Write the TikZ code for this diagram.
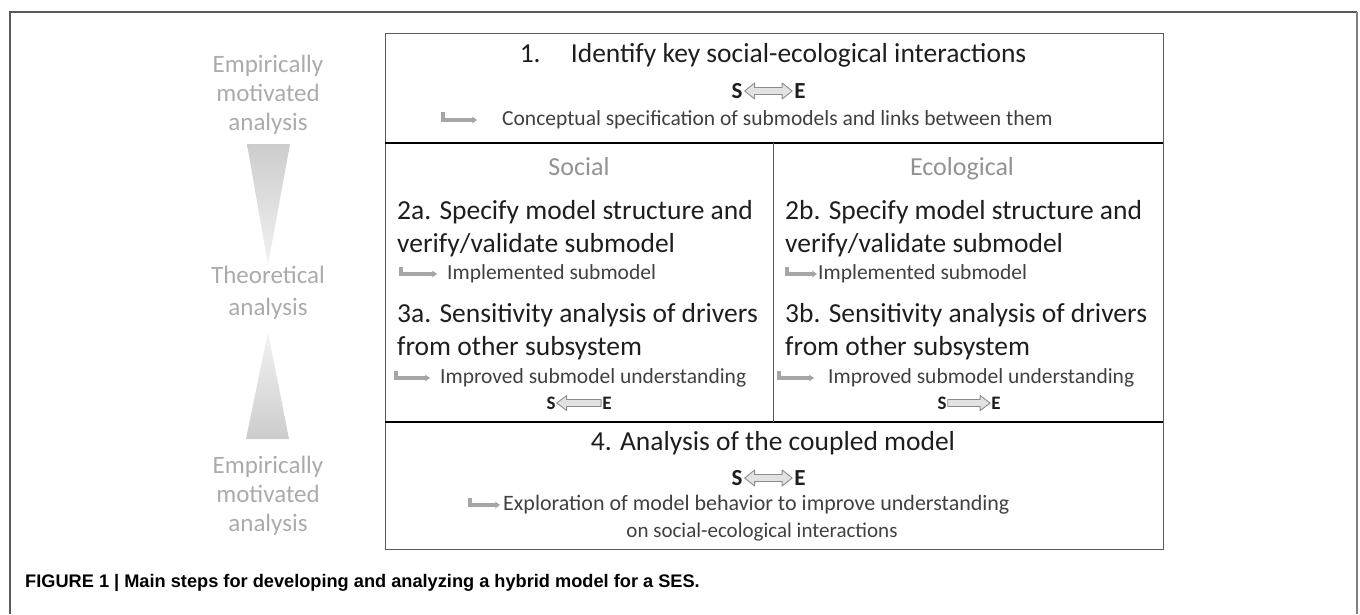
\documentclass[tikz,border=0pt]{standalone}
\usepackage{fontspec}
\setmainfont{Carlito}
\newfontfamily\capfont{Liberation Sans}
\usetikzlibrary{calc,arrows.meta}
\definecolor{txt}{HTML}{1E1E1E}
\definecolor{lbl}{HTML}{ABABAB}
\definecolor{sub}{HTML}{929292}
\definecolor{hookc}{HTML}{A6A6A6}
\definecolor{frm}{HTML}{5A5A5A}
\definecolor{arrfill}{HTML}{E2E2E2}
\definecolor{arrdraw}{HTML}{8C8C8C}
\newcommand\fs[2]{\fontsize{#1}{#2}\selectfont}
% block double arrow between two named nodes
\newcommand\dblarrow[2]{%
  \path[barrow] let \p1=($(#1.east)+(2,0)$), \p2=($(#2.west)-(2,0)$) in
    (\x1,\y1) -- (\x1+10pt,\y1+8pt) -- (\x1+10pt,\y1+3.5pt) -- (\x2-10pt,\y1+3.5pt)
    -- (\x2-10pt,\y1+8pt) -- (\x2,\y1) -- (\x2-10pt,\y1-8pt) -- (\x2-10pt,\y1-3.5pt)
    -- (\x1+10pt,\y1-3.5pt) -- (\x1+10pt,\y1-8pt) -- cycle;}
\newcommand\leftarrowblk[2]{%
  \path[barrow] let \p1=($(#1.east)+(1,0)$), \p2=($(#2.west)-(1,0)$) in
    (\x1,\y1) -- (\x1+10pt,\y1+7.5pt) -- (\x1+10pt,\y1+3.5pt) -- (\x2,\y1+3.5pt)
    -- (\x2,\y1-3.5pt) -- (\x1+10pt,\y1-3.5pt) -- (\x1+10pt,\y1-7.5pt) -- cycle;}
\newcommand\rightarrowblk[2]{%
  \path[barrow] let \p1=($(#1.east)+(1,0)$), \p2=($(#2.west)-(1,0)$) in
    (\x1,\y1+3.5pt) -- (\x2-10pt,\y1+3.5pt) -- (\x2-10pt,\y1+7.5pt) -- (\x2,\y1)
    -- (\x2-10pt,\y1-7.5pt) -- (\x2-10pt,\y1-3.5pt) -- (\x1,\y1-3.5pt) -- cycle;}
\tikzset{
  barrow/.style={draw=arrdraw, fill=arrfill, line width=0.9pt, line join=round},
  title/.style={inner sep=0pt, text=txt, font=\fs{27.5}{32}},
  stepbox/.style={inner sep=0pt, text=txt, font=\fs{27.5}{33}, align=left, anchor=west},
  result/.style={inner sep=0pt, text=txt!85, font=\fs{21.5}{27}},
  head/.style={inner sep=0pt, text=sub, font=\fs{26}{30}, anchor=base},
  selbl/.style={inner sep=0pt, text=txt, font=\bfseries\fs{23}{26}},
  sesm/.style={inner sep=0pt, text=txt, font=\bfseries\fs{19}{22}},
  side/.style={inner sep=0pt, text=lbl, font=\fs{25}{29}, align=center},
  hk/.style={draw=hookc, line width=3.2pt, -{Stealth[length=5pt,width=7pt]}},
}
\begin{document}
\begin{tikzpicture}[x=1pt,y=-1pt]
\useasboundingbox (0,0) rectangle (1360,614);
% outer frame
\draw[frm, line width=1.2pt] (10,614) -- (10,12) -- (1357,12);
\draw[gray, line width=2pt] (1357,12) -- (1357,614);
% main box
\draw[frm, line width=1pt] (385,33) rectangle (1163,549);
\draw[black, line width=2.2pt] (385,143) -- (1163,143);
\draw[black, line width=2.2pt] (385,422) -- (1163,422);
\draw[frm, line width=1pt] (773,143) -- (773,422);

% box 1
\node[title] (t1) at (773,55) {1.\hspace{1.1em}Identify key social-ecological interactions};
\node[selbl] (s1) at (737,91) {S};
\node[selbl] (e1) at (800,91) {E};
\dblarrow{s1}{e1}
\node[result, anchor=west] (c1) at (502,120) {Conceptual specification of submodels and links between them};
\coordinate (h1) at (443,112);
\draw[hk] (h1) |- (c1.west -| 477,0);

% social / ecological headers
\node[head] (soc) at (579,175) {Social};
\node[head] (eco) at (962,175) {Ecological};

% 2a
\node[stepbox] (s2a) at (397,229) {2a. Specify model structure and\\verify/validate submodel};
\node[result, anchor=west] (r2a) at (447,274) {Implemented submodel};
\coordinate (h2a) at (401,267);
\draw[hk] (h2a) |- (r2a.west -| 437,0);
% 3a
\node[stepbox] (s3a) at (397,332) {3a. Sensitivity analysis of drivers\\from other subsystem};
\node[result, anchor=west] (r3a) at (440,378) {Improved submodel understanding};
\coordinate (h3a) at (396,371);
\draw[hk] (h3a) |- (r3a.west -| 430,0);
\node[sesm] (s3) at (551,403) {S};
\node[sesm] (e3) at (607,403) {E};
\leftarrowblk{s3}{e3}

% 2b
\node[stepbox] (s2b) at (785,229) {2b. Specify model structure and\\verify/validate submodel};
\node[result, anchor=west] (r2b) at (818,274) {Implemented submodel};
\coordinate (h2b) at (787,267);
\draw[hk] (h2b) |- (r2b.west -| 817,0);
% 3b
\node[stepbox] (s3b) at (785,332) {3b. Sensitivity analysis of drivers\\from other subsystem};
\node[result, anchor=west] (r3b) at (828,378) {Improved submodel understanding};
\coordinate (h3b) at (779,371);
\draw[hk] (h3b) |- (r3b.west -| 814,0);
\node[sesm] (s4) at (942,403) {S};
\node[sesm] (e4) at (996,403) {E};
\rightarrowblk{s4}{e4}

% box 4
\node[title] (t4) at (773,443) {4. Analysis of the coupled model};
\node[selbl] (s5) at (737,478) {S};
\node[selbl] (e5) at (800,478) {E};
\dblarrow{s5}{e5}
\node[result, anchor=west, font=\fs{22}{27}] (r4) at (503,505) {Exploration of model behavior to improve understanding};
\node[result, font=\fs{21}{27}] (r4b) at (762,532) {on social-ecological interactions};
\coordinate (h4) at (470,498);
\draw[hk] (h4) |- (r4.west -| 500,0);

% left side
\node[side] (em1) at (268,95) {Empirically\\motivated\\analysis};
\shade[top color=gray!40, bottom color=gray!10] (247,144) -- (290,144) -- (268,265) -- cycle;
\node[side, font=\fs{25}{32}] (th) at (268,293) {Theoretical\\analysis};
\shade[top color=gray!10, bottom color=gray!40] (268,332) -- (289,439) -- (246,439) -- cycle;
\node[side] (em2) at (268,496) {Empirically\\motivated\\analysis};

% caption
\node[anchor=west, inner sep=0pt, text=black, font=\capfont\bfseries\fs{18.2}{20}] (cap) at (25,583) {FIGURE 1 | Main steps for developing and analyzing a hybrid model for a SES.};
\end{tikzpicture}
\end{document}
